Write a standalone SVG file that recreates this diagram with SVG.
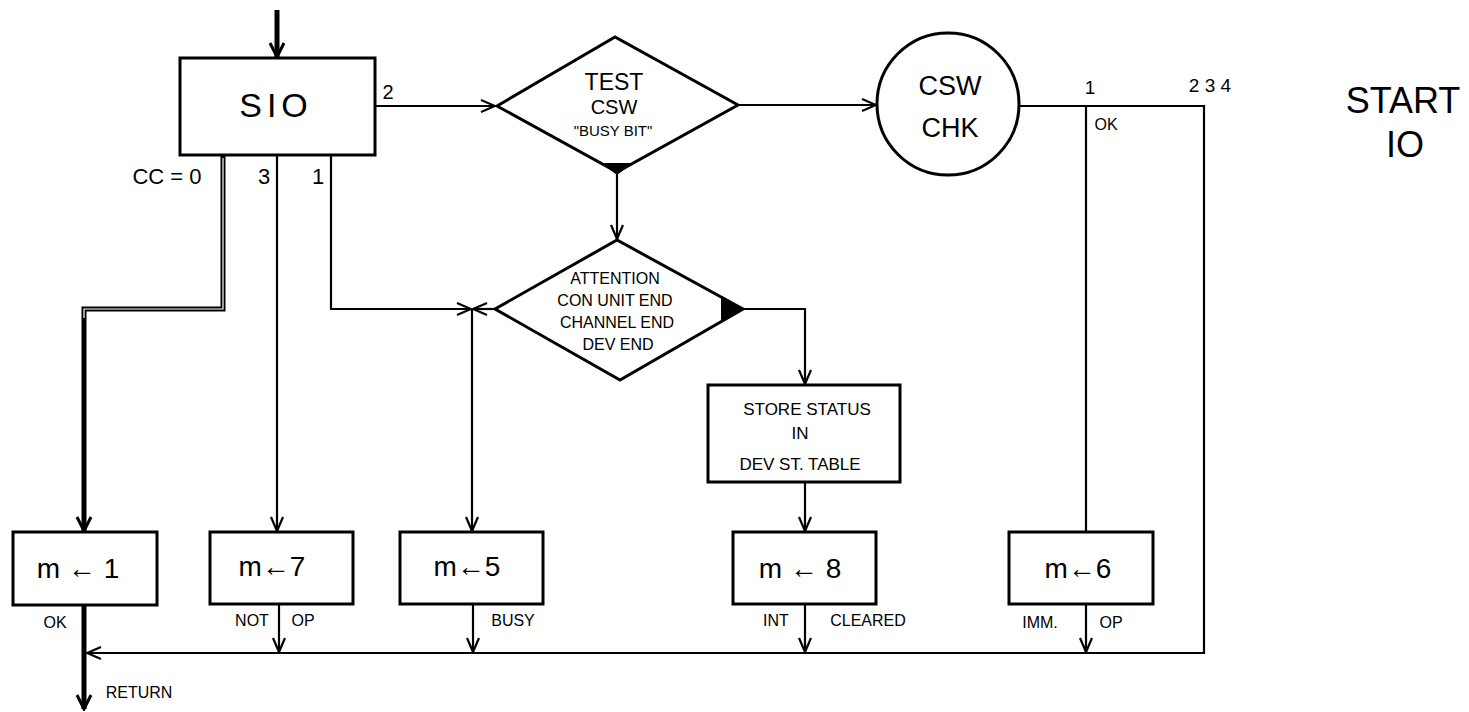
<svg xmlns="http://www.w3.org/2000/svg" width="1469" height="712" viewBox="0 0 1469 712">
<style>
text{font-family:"Liberation Sans","DejaVu Sans",sans-serif;fill:#000;text-anchor:middle}
.box{fill:#fff;stroke:#000;stroke-width:3}
.ln{fill:none;stroke:#000;stroke-width:2.2}
.thick{fill:none;stroke:#000;stroke-width:5}
.big{font-size:34px;letter-spacing:5px}
.mid{font-size:28px}
.lbl{font-size:16px}
.dt{font-size:16px}
</style>
<defs>
<marker id="ah" viewBox="-16 -9 18 18" refX="0" refY="0" markerWidth="18" markerHeight="18" markerUnits="userSpaceOnUse" orient="auto">
<path d="M-14,-6 L0,0 L-14,6" fill="none" stroke="#000" stroke-width="2.2"/>
</marker>
<marker id="ahb" viewBox="-16 -9 18 18" refX="0" refY="0" markerWidth="18" markerHeight="18" markerUnits="userSpaceOnUse" orient="auto">
<path d="M-14,-7 L0,0 L-14,7" fill="none" stroke="#000" stroke-width="3"/>
</marker>
</defs>

<g id="connectors">
<line class="thick" x1="277" y1="10" x2="277" y2="57" marker-end="url(#ahb)" stroke-width="4"/>
<line class="ln" x1="375" y1="106" x2="495" y2="106" marker-end="url(#ah)"/>
<line class="ln" x1="738" y1="105" x2="876" y2="105" marker-end="url(#ah)"/>
<line class="ln" x1="617" y1="172" x2="617" y2="239" marker-end="url(#ah)"/>
<polyline class="thick" points="223,155 223,309 84,309 84,531" marker-end="url(#ahb)"/>
<polyline fill="none" stroke="#fff" stroke-width="1.2" points="223,158 223,309 84,309 84,318"/>
<line class="ln" x1="277" y1="155" x2="277" y2="531" marker-end="url(#ah)"/>
<polyline class="ln" points="331,155 331,309 471,309" marker-end="url(#ah)"/>
<line class="ln" x1="495" y1="309" x2="473" y2="309" marker-end="url(#ah)"/>
<line class="ln" x1="472" y1="309" x2="472" y2="531" marker-end="url(#ah)"/>
<polyline class="ln" points="743,309 805,309 805,384" marker-end="url(#ah)"/>
<line class="ln" x1="805" y1="482" x2="805" y2="531" marker-end="url(#ah)"/>
<polyline class="ln" points="1020,106 1204,106 1204,653 87,653" marker-end="url(#ah)"/>
<line class="ln" x1="1086" y1="106" x2="1086" y2="532"/>
<line class="thick" x1="84" y1="605" x2="84" y2="709" marker-end="url(#ahb)"/>
<line class="ln" x1="279" y1="604" x2="279" y2="652" marker-end="url(#ah)"/>
<line class="ln" x1="473" y1="604" x2="473" y2="652" marker-end="url(#ah)"/>
<line class="ln" x1="805" y1="604" x2="805" y2="652" marker-end="url(#ah)"/>
<line class="ln" x1="1086" y1="604" x2="1086" y2="652" marker-end="url(#ah)"/>
</g>

<g id="sio">
<rect class="box" x="180" y="58" width="195" height="97"/>
<text class="big" x="276" y="117">SIO</text>
</g>
<g id="sio-labels">
<text x="388" y="99" font-size="20">2</text>
<text x="167" y="184" font-size="22">CC =  0</text>
<text x="264" y="184" font-size="22">3</text>
<text x="318" y="184" font-size="22">1</text>
</g>

<g id="test-csw">
<polygon points="497,106 615,37 738,105 617,172" fill="#fff" stroke="#000" stroke-width="3"/>
<polygon points="601,163 633,163 617,175" fill="#000"/>
<text x="614" y="90" font-size="23">TEST</text>
<text x="614" y="114" font-size="20">CSW</text>
<text x="613" y="136" font-size="15">"BUSY BIT"</text>
</g>

<g id="attention">
<polygon points="495,309 617,240 743,309 620,380" fill="#fff" stroke="#000" stroke-width="3"/>
<polygon points="721,296 743,309 721,321" fill="#000"/>
<text class="dt" x="615" y="284">ATTENTION</text>
<text class="dt" x="615" y="306">CON  UNIT END</text>
<text class="dt" x="617" y="328">CHANNEL END</text>
<text class="dt" x="618" y="350">DEV END</text>
</g>

<g id="csw-chk">
<circle cx="948" cy="104" r="71" fill="#fff" stroke="#000" stroke-width="3"/>
<text x="950" y="95" font-size="27">CSW</text>
<text x="950" y="137" font-size="27">CHK</text>
</g>
<g id="chk-labels">
<text x="1090" y="94" font-size="19">1</text>
<text x="1210" y="92" font-size="19">2 3 4</text>
<text x="1106" y="130" font-size="16">OK</text>
</g>

<g id="store-status">
<rect class="box" x="708" y="385" width="192" height="97"/>
<text x="807" y="415" font-size="17">STORE STATUS</text>
<text x="800" y="439" font-size="17">IN</text>
<text x="800" y="470" font-size="17">DEV ST. TABLE</text>
</g>

<g id="m1">
<rect class="box" x="13" y="532" width="144" height="73"/>
<text class="mid" x="78" y="578">m ← 1</text>
<text class="lbl" x="55" y="628">OK</text>
</g>
<g id="m7">
<rect class="box" x="210" y="532" width="143" height="72"/>
<text class="mid" x="272" y="576">m←7</text>
<text class="lbl" x="252" y="626">NOT</text>
<text class="lbl" x="303" y="626">OP</text>
</g>
<g id="m5">
<rect class="box" x="400" y="532" width="143" height="72"/>
<text class="mid" x="467" y="576">m←5</text>
<text class="lbl" x="513" y="626">BUSY</text>
</g>
<g id="m8">
<rect class="box" x="733" y="532" width="143" height="72"/>
<text class="mid" x="800" y="578">m ← 8</text>
<text class="lbl" x="776" y="626">INT</text>
<text class="lbl" x="868" y="626">CLEARED</text>
</g>
<g id="m6">
<rect class="box" x="1009" y="532" width="144" height="72"/>
<text class="mid" x="1078" y="578">m←6</text>
<text class="lbl" x="1040" y="628">IMM.</text>
<text class="lbl" x="1111" y="628">OP</text>
</g>

<g id="return">
<text class="lbl" x="139" y="698">RETURN</text>
</g>

<g id="title">
<text x="1403" y="113" font-size="36">START</text>
<text x="1405" y="157" font-size="36">IO</text>
</g>
</svg>
